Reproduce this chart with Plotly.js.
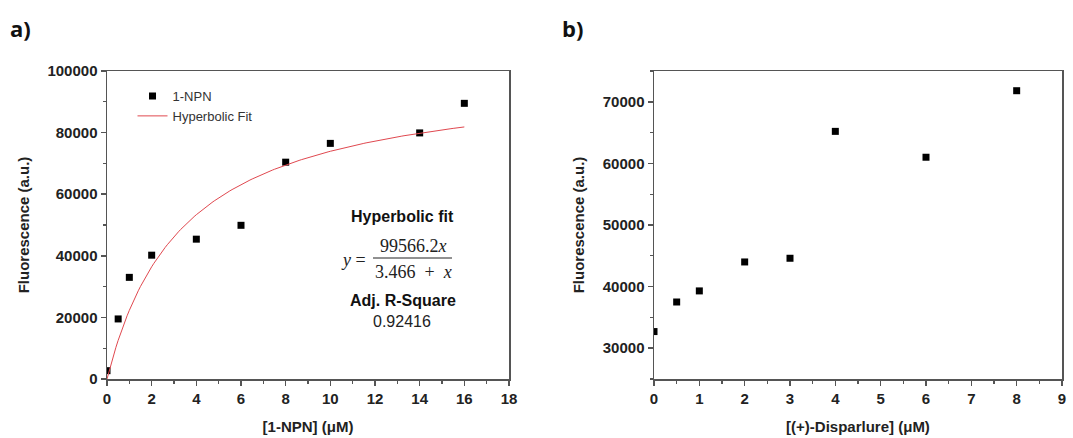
<!DOCTYPE html>
<html>
<head>
<meta charset="utf-8">
<script src="https://cdn.plot.ly/plotly-3.0.1.min.js"></script>
<style>html,body{margin:0;padding:0;background:#fff;}#chart{width:1073px;height:438px;}</style>
</head>
<body>
<div id="chart"></div>
<script>
// Panel a) data
const npnConc = [0, 0.5, 1, 2, 4, 6, 8, 10, 14, 16];
const npnFluor = [2700, 19500, 33000, 40200, 45400, 49900, 70400, 76500, 79900, 89500];
// Hyperbolic fit parameters as printed on the chart
const fitA = 99566.2;
const fitK = 3.466;
const fitR2 = "0.92416";
// Panel b) data
const dispConc = [0, 0.5, 1, 2, 3, 4, 6, 8];
const dispFluor = [32700, 37500, 39300, 44000, 44600, 65200, 61000, 71800];

const fitX = [];
for (let i = 0; i <= 160; i++) fitX.push(i * 0.1);
const fitY = fitX.map(x => fitA * x / (fitK + x));

const tickFont = {family: 'Liberation Sans, Arial, sans-serif', size: 15, color: '#222', weight: 'bold'};
const titleFont = {family: 'Liberation Sans, Arial, sans-serif', size: 15, color: '#222', weight: 'bold'};
const axLine = '#555';

function xax(range, dtick, minor, domain, anchor, title) {
  return {
    domain: domain, anchor: anchor, range: range, dtick: dtick, tick0: 0, tickformat: 'd',
    showgrid: false, zeroline: false, showline: true, linecolor: axLine, linewidth: 1.5,
    mirror: true, ticks: 'outside', ticklen: 5, tickcolor: axLine, tickwidth: 1.5,
    minor: {ticks: 'outside', dtick: minor, ticklen: 3, tickcolor: axLine, tickwidth: 1.2},
    tickfont: tickFont, fixedrange: true,
    title: {text: title, font: titleFont, standoff: 16}
  };
}
function yax(range, dtick, minor, domain, anchor, title, standoff) {
  return {
    domain: domain, anchor: anchor, range: range, dtick: dtick, tickformat: 'd',
    showgrid: false, zeroline: false, showline: true, linecolor: axLine, linewidth: 1.5,
    mirror: true, ticks: 'outside', ticklen: 5, tickcolor: axLine, tickwidth: 1.5,
    minor: {ticks: 'outside', dtick: minor, ticklen: 3, tickcolor: axLine, tickwidth: 1.2},
    tickfont: tickFont, fixedrange: true,
    title: {text: title, font: titleFont, standoff: standoff}
  };
}

const traces = [
  {x: npnConc, y: npnFluor, type: 'scatter', mode: 'markers', name: '1-NPN',
   marker: {symbol: 'square', size: 7, color: '#000'}, xaxis: 'x', yaxis: 'y'},
  {x: fitX, y: fitY, type: 'scatter', mode: 'lines', name: 'Hyperbolic Fit',
   line: {color: '#e0484f', width: 1}, xaxis: 'x', yaxis: 'y'},
  {x: dispConc, y: dispFluor, type: 'scatter', mode: 'markers', name: '(+)-Disparlure',
   marker: {symbol: 'square', size: 7, color: '#000'}, xaxis: 'x2', yaxis: 'y2', showlegend: false}
];

const yDom = [1 - 379 / 438, 1 - 71 / 438];
const eqFont = {family: 'Liberation Serif, Times New Roman, serif', size: 18, color: '#222'};
const layout = {
  width: 1073, height: 438,
  margin: {l: 0, r: 0, t: 0, b: 0},
  paper_bgcolor: '#fff', plot_bgcolor: '#fff',
  font: {family: 'Liberation Sans, Arial, sans-serif', color: '#222'},
  showlegend: true,
  legend: {x: 0.1235, y: 0.815, xanchor: 'left', yanchor: 'top', bgcolor: 'rgba(0,0,0,0)',
           font: {family: 'Liberation Sans, Arial, sans-serif', size: 13, color: '#333'},
           tracegroupgap: 0, itemwidth: 30},
  xaxis: xax([0, 18], 2, 1, [107 / 1073, 509 / 1073], 'y', '[1-NPN] (μM)'),
  yaxis: yax([0, 100000], 20000, 10000, yDom, 'x', 'Fluorescence (a.u.)', 14),
  xaxis2: xax([0, 9], 1, 0.5, [654 / 1073, 1062 / 1073], 'y2', '[(+)-Disparlure] (μM)'),
  yaxis2: yax([25000, 75000], 10000, 5000, yDom, 'x2', 'Fluorescence (a.u.)', 14),
  annotations: [
    {text: 'a)', xref: 'paper', yref: 'paper', x: 8 / 1073, y: 1 - 28 / 438, xanchor: 'left', yanchor: 'middle',
     showarrow: false, font: {family: 'Open Sans, sans-serif', size: 22, color: '#111', weight: 'bold'}},
    {text: 'b)', xref: 'paper', yref: 'paper', x: 560 / 1073, y: 1 - 28 / 438, xanchor: 'left', yanchor: 'middle',
     showarrow: false, font: {family: 'Open Sans, sans-serif', size: 22, color: '#111', weight: 'bold'}},
    {text: 'Hyperbolic fit', xref: 'paper', yref: 'paper', x: 402 / 1073, y: 1 - 216 / 438, yanchor: 'middle',
     showarrow: false, font: {family: 'Liberation Sans, Arial, sans-serif', size: 16, color: '#111', weight: 'bold'}},
    {text: '<i>y</i> =', xref: 'paper', yref: 'paper', x: 368 / 1073, y: 1 - 260 / 438, xanchor: 'right', yanchor: 'middle',
     showarrow: false, font: eqFont},
    {text: fitA.toFixed(1) + '<i>x</i>', xref: 'paper', yref: 'paper', x: 413 / 1073, y: 1 - 246 / 438, yanchor: 'middle',
     showarrow: false, font: eqFont},
    {text: fitK + '  +  <i>x</i>', xref: 'paper', yref: 'paper', x: 413 / 1073, y: 1 - 272 / 438, yanchor: 'middle',
     showarrow: false, font: eqFont},
    {text: 'Adj. R-Square', xref: 'paper', yref: 'paper', x: 403 / 1073, y: 1 - 300 / 438, yanchor: 'middle',
     showarrow: false, font: {family: 'Liberation Sans, Arial, sans-serif', size: 16, color: '#111', weight: 'bold'}},
    {text: fitR2, xref: 'paper', yref: 'paper', x: 402 / 1073, y: 1 - 321 / 438, yanchor: 'middle',
     showarrow: false, font: {family: 'Liberation Sans, Arial, sans-serif', size: 16, color: '#222'}}
  ],
  shapes: [
    {type: 'line', xref: 'paper', yref: 'paper', x0: 373 / 1073, x1: 452 / 1073, y0: 1 - 258 / 438, y1: 1 - 258 / 438,
     line: {color: '#222', width: 1}}
  ]
};

Plotly.newPlot('chart', traces, layout, {displayModeBar: false, staticPlot: true});
</script>
</body>
</html>
